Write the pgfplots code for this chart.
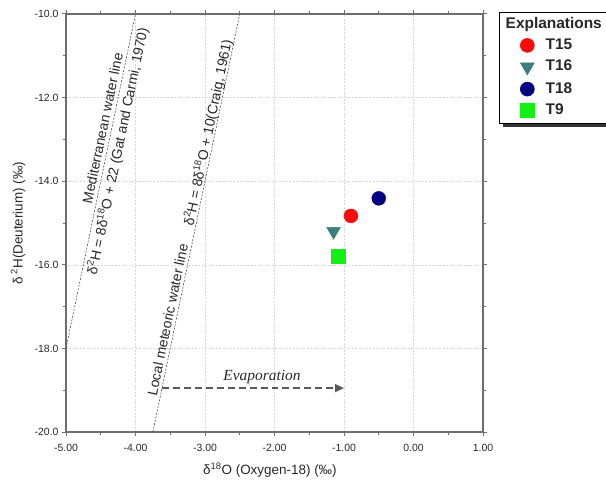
\documentclass[border=0pt]{standalone}
\usepackage{pgfplots}
\pgfplotsset{compat=1.18}
\usepackage{fontspec}
\setmainfont{Liberation Sans}
\newfontfamily\serifit{Liberation Serif}
\usetikzlibrary{shadows,arrows.meta}
\definecolor{cT15}{RGB}{250,10,10}
\definecolor{cT16}{RGB}{62,126,126}
\definecolor{cT18}{RGB}{0,0,128}
\definecolor{cT9}{RGB}{20,240,20}
\definecolor{axgray}{RGB}{110,110,110}
\definecolor{txt}{RGB}{40,40,40}
\begin{document}
\begin{tikzpicture}
\begin{axis}[
  name=ax,
  scale only axis, width=417bp, height=418bp,
  xmin=-5, xmax=1, ymin=-20, ymax=-10,
  xtick={-5,-4,-3,-2,-1,0,1}, ytick={-20,-18,-16,-14,-12,-10},
  minor x tick num=1, minor y tick num=1,
  tick align=outside, major tick length=4pt, minor tick length=3pt,
  grid=major, major grid style={dash pattern=on 2pt off 1.5pt, black!16, line width=0.5pt},
  axis line style={color=axgray, line width=1.3pt},
  tick style={color=axgray, line width=1pt},
  /pgf/number format/assume math mode=true,
  xticklabel style={/pgf/number format/fixed, /pgf/number format/fixed zerofill, /pgf/number format/precision=2, yshift=-5pt},
  yticklabel style={/pgf/number format/fixed, /pgf/number format/fixed zerofill, /pgf/number format/precision=1},
  tick label style={font=\fontsize{10.5}{12}\selectfont, color=txt},
  xlabel={δ\textsuperscript{18}O (Oxygen-18) (‰)},
  ylabel={δ\,\textsuperscript{2}H(Deuterium) (‰)},
  label style={font=\fontsize{13.5}{15}\selectfont, color=txt},
  xlabel style={at={(axis description cs:0.489,-0.091)}, anchor=center},
  ylabel style={at={(axis description cs:-0.115,0.5)}, anchor=center},
  legend image code/.code={\path (0pt,-7pt) (30pt,7pt); \draw[#1] plot coordinates {(22pt,0pt)};},
  legend cell align=left,
  legend style={at={(rel axis cs:1.038,1.005)}, anchor=north west,
    draw=black, line width=0.6pt, fill=white,
    inner xsep=6pt, inner ysep=5pt, row sep=7pt, column sep=10pt,
    nodes={inner sep=0pt, text height=11pt, text depth=3pt},
    font=\bfseries\fontsize{15.5}{17}\selectfont, text=txt,
    drop shadow={shadow xshift=4pt, shadow yshift=-4pt, fill=black!80, opacity=1}},
]
\addlegendimage{empty legend}
\addlegendentry{\hspace*{-40pt}Explanations}
% water lines
\addplot[forget plot, black!80, line width=0.5pt, dash pattern=on 2pt off 1.5pt] coordinates {(-5,-18) (-4,-10)};
\addplot[forget plot, black!80, line width=0.5pt, dash pattern=on 2pt off 1.5pt] coordinates {(-3.75,-20) (-2.5,-10)};
% evaporation arrow
\addplot[forget plot, black!65, line width=1.3pt, dash pattern=on 7pt off 4pt, -{Triangle[length=9pt,width=8pt]}] coordinates {(-3.62,-18.95) (-1.0,-18.95)};
% samples
\addplot[only marks, mark=*, mark size=7pt, color=cT15] coordinates {(-0.90,-14.83)};
\addlegendentry{T15}
\addplot[only marks, mark=triangle*, mark size=8pt, mark options={rotate=180}, color=cT16] coordinates {(-1.15,-15.2)};
\addlegendentry{T16}
\addplot[only marks, mark=*, mark size=7pt, color=cT18] coordinates {(-0.50,-14.41)};
\addlegendentry{T18}
\addplot[only marks, mark=square*, mark size=7pt, color=cT9] coordinates {(-1.08,-15.79)};
\addlegendentry{T9}
% labels along the lines
\node[rotate=78.26, anchor=base, inner sep=0pt, font=\fontsize{14}{16}\selectfont, text=txt] at (axis cs:-4.403,-12.755) {Mediterranean water line};
\node[rotate=78.26, anchor=north, inner sep=0pt, font=\fontsize{14}{16}\selectfont, text=txt] at (axis cs:-4.362,-13.245) {δ\textsuperscript{2}H = 8δ\textsuperscript{18}O + 22 (Gat and Carmi, 1970)};
\node[rotate=78.26, anchor=base, inner sep=0pt, font=\fontsize{14}{16}\selectfont, text=txt] at (axis cs:-2.890,-12.860) {δ\textsuperscript{2}H = 8δ\textsuperscript{18}O + 10(Craig, 1961)};
\node[rotate=78.26, anchor=base, inner sep=0pt, font=\fontsize{14}{16}\selectfont, text=txt] at (axis cs:-3.468,-17.339) {Local meteoric water line};
\node[font=\serifit\itshape\fontsize{15.5}{17}\selectfont, text=txt] at (axis cs:-2.18,-18.68) {Evaporation};
\end{axis}
\pgfresetboundingbox
\useasboundingbox ([xshift=-66bp,yshift=-49bp]ax.south west) rectangle ([xshift=123bp,yshift=14bp]ax.north east);
\end{tikzpicture}
\end{document}
